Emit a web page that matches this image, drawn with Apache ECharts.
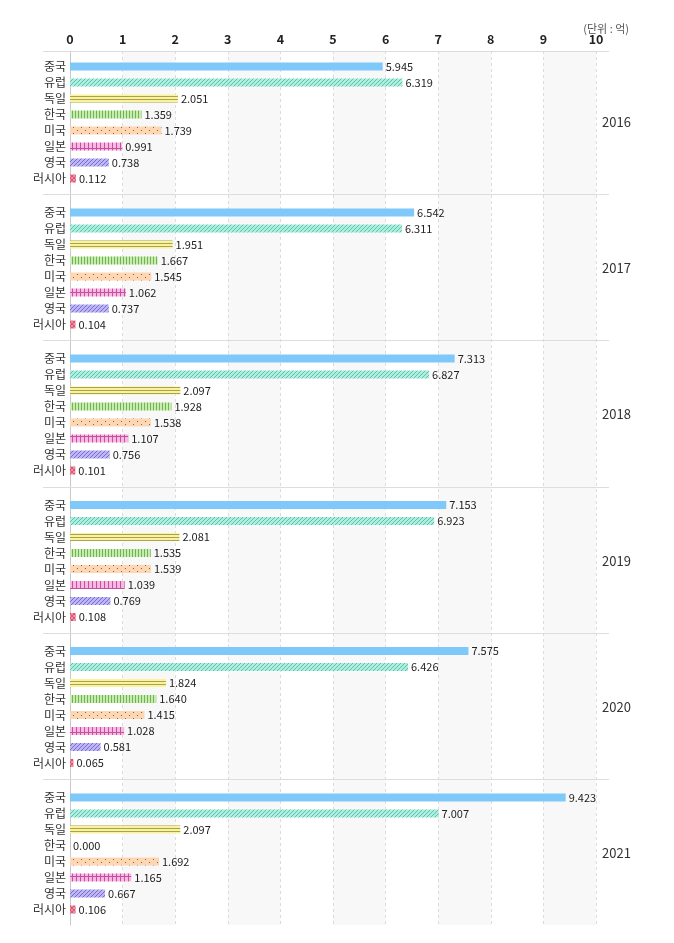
<!DOCTYPE html>
<html>
<head>
<meta charset="utf-8">
<script src="https://cdn.jsdelivr.net/npm/echarts@6/dist/echarts.min.js"></script>
<style>
html,body{margin:0;padding:0;background:#fff;}
#chart{width:674px;height:943px;}
</style>
</head>
<body>
<div id="chart"></div>
<script>
// ---- data ----
const categories = ['중국','유럽','독일','한국','미국','일본','영국','러시아'];
const years = ['2016','2017','2018','2019','2020','2021'];
const v2016 = [5.945, 6.319, 2.051, 1.359, 1.739, 0.991, 0.738, 0.112];
const v2017 = [6.542, 6.311, 1.951, 1.667, 1.545, 1.062, 0.737, 0.104];
const v2018 = [7.313, 6.827, 2.097, 1.928, 1.538, 1.107, 0.756, 0.101];
const v2019 = [7.153, 6.923, 2.081, 1.535, 1.539, 1.039, 0.769, 0.108];
const v2020 = [7.575, 6.426, 1.824, 1.640, 1.415, 1.028, 0.581, 0.065];
const v2021 = [9.423, 7.007, 2.097, 0.000, 1.692, 1.165, 0.667, 0.106];
const valuesByYear = [v2016, v2017, v2018, v2019, v2020, v2021];
const axisMin = 0, axisMax = 10, axisInterval = 1;
const unitText = '(단위 : 억)';

// ---- patterns ----
function makePattern(w, h, draw) {
  const c = document.createElement('canvas');
  c.width = w; c.height = h;
  const ctx = c.getContext('2d');
  draw(ctx, w, h);
  return { image: c, repeat: 'repeat' };
}
function diag(bg, fg, p) {
  return makePattern(p, p, (ctx, w, h) => {
    ctx.fillStyle = bg; ctx.fillRect(0, 0, w, h);
    ctx.strokeStyle = fg; ctx.lineWidth = 1;
    ctx.beginPath();
    ctx.moveTo(-1, h + 1); ctx.lineTo(w + 1, -1);
    ctx.moveTo(-1, 1); ctx.lineTo(1, -1);
    ctx.moveTo(w - 1, h + 1); ctx.lineTo(w + 1, h - 1);
    ctx.stroke();
  });
}
const FONT = '"Noto Sans CJK KR", "Noto Sans", sans-serif';
const itemColors = [
  '#7fc8fa',
  diag('#aeeee0', '#5ec2ab', 4),
  makePattern(4, 3, (ctx, w, h) => {
    ctx.fillStyle = '#f8f2a2'; ctx.fillRect(0, 0, w, h);
    ctx.fillStyle = '#aaa445'; ctx.fillRect(0, 0, w, 1);
  }),
  makePattern(3, 4, (ctx, w, h) => {
    ctx.fillStyle = '#c6edae'; ctx.fillRect(0, 0, w, h);
    ctx.fillStyle = '#72b455'; ctx.fillRect(0, 0, 1, h);
  }),
  makePattern(8, 6, (ctx, w, h) => {
    ctx.fillStyle = '#fdd6b3'; ctx.fillRect(0, 0, w, h);
    ctx.fillStyle = '#8f5f38';
    ctx.fillRect(1, 1, 1, 1);
    ctx.fillRect(5, 4, 1, 1);
  }),
  makePattern(4, 8, (ctx, w, h) => {
    ctx.fillStyle = '#f7b8e4'; ctx.fillRect(0, 0, w, h);
    ctx.fillStyle = '#c4509e';
    ctx.fillRect(0, 0, 1, h);
    ctx.fillRect(0, 4, w, 1);
  }),
  diag('#bdb6f4', '#7c6cd2', 4),
  makePattern(4, 4, (ctx, w, h) => {
    ctx.fillStyle = '#f292a4'; ctx.fillRect(0, 0, w, h);
    ctx.strokeStyle = '#d55672'; ctx.lineWidth = 1;
    ctx.beginPath();
    ctx.moveTo(0, 0); ctx.lineTo(w, h);
    ctx.moveTo(w, 0); ctx.lineTo(0, h);
    ctx.stroke();
  })
];

// ---- layout ----
const gridLeft = 70, gridWidth = 526;
const plotTop = 51, plotBottom = 925;
const groupLines = [51, 194, 340, 486.5, 632.5, 779];
const bandH = 16;
const gridTops = groupLines.map((y, i) => i === 0 ? y + 7.5 : y + 10.5);

const grids = [{ left: gridLeft, width: gridWidth, top: plotTop, height: plotBottom - plotTop }];
const xAxes = [{
  gridIndex: 0, type: 'value', position: 'top',
  min: axisMin, max: axisMax, interval: axisInterval,
  axisLine: { show: false }, axisTick: { show: false },
  axisLabel: { color: '#222', fontSize: 12.5, fontWeight: 'bold', fontFamily: FONT, margin: 5 },
  splitLine: { show: true, lineStyle: { color: '#dcdcdc', type: [3, 3] } },
  splitArea: { show: true, areaStyle: { color: ['rgba(255,255,255,0)', '#f8f8f8'] } }
}];
const yAxes = [{
  gridIndex: 0, type: 'value', min: 0, max: 1,
  axisLine: { show: true, lineStyle: { color: '#c8c8c8' } },
  axisTick: { show: false }, axisLabel: { show: false }, splitLine: { show: false }
}];
const series = [];

years.forEach((yr, i) => {
  const gi = i + 1;
  grids.push({ left: gridLeft, width: gridWidth, top: gridTops[i], height: bandH * categories.length });
  xAxes.push({ gridIndex: gi, type: 'value', min: axisMin, max: axisMax, show: false });
  yAxes.push({
    gridIndex: gi, type: 'category', inverse: true, data: categories,
    axisLine: { show: false }, axisTick: { show: false },
    axisLabel: { color: '#333', fontSize: 12, fontFamily: FONT, margin: 4 },
    splitLine: { show: false }
  });
  yAxes.push({
    gridIndex: gi, type: 'category', position: 'right', data: [yr],
    axisLine: { show: false }, axisTick: { show: false },
    axisLabel: { color: '#333', fontSize: 13, fontFamily: FONT, margin: 6, padding: [0, 0, 8, 0] },
    splitLine: { show: false }
  });
  series.push({
    type: 'bar', xAxisIndex: gi, yAxisIndex: yAxes.length - 2,
    barWidth: 8,
    data: valuesByYear[i].map((v, j) => ({ value: v, itemStyle: { color: itemColors[j] } })),
    label: {
      show: true, position: 'right', distance: 3,
      color: '#222', fontSize: 11, fontFamily: FONT,
      formatter: p => p.value.toFixed(3)
    },
    silent: true, animation: false
  });
});

const graphics = groupLines.map(y => ({
  type: 'line', silent: true,
  shape: { x1: 43, y1: Math.round(y) + 0.5, x2: 609, y2: Math.round(y) + 0.5 },
  style: { stroke: '#dddddd', lineWidth: 1 }, z: 10
}));
graphics.push({
  type: 'text', x: 629, y: 29,
  style: { text: unitText, fill: '#555', font: '11px ' + FONT, textAlign: 'right', textVerticalAlign: 'middle' }
});

const chart = echarts.init(document.getElementById('chart'), null, { renderer: 'canvas' });
chart.setOption({
  animation: false,
  backgroundColor: '#fff',
  textStyle: { fontFamily: FONT },
  grid: grids, xAxis: xAxes, yAxis: yAxes, series: series, graphic: graphics
});
</script>
</body>
</html>
